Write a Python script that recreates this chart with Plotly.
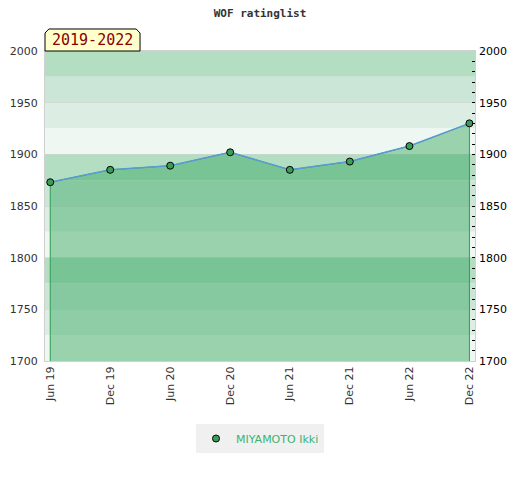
import plotly.graph_objects as go

# rating history
datas = ["2019-06-01", "2019-12-01", "2020-06-01", "2020-12-01",
         "2021-06-01", "2021-12-01", "2022-06-01", "2022-12-01"]
ratings = [1873, 1885, 1889, 1902, 1885, 1893, 1908, 1930]
jogador = "MIYAMOTO Ikki"
periodo = "2019-2022"
y_min, y_max = 1700, 2000

# faixas de fundo (cada bloco de 100 pontos, de cima para baixo)
cores_faixa = ["#b3dec2", "#cbe6d6", "#dceee3", "#eef7f1"]

fig = go.Figure()

# area preenchida ate a base do eixo
fig.add_trace(go.Scatter(x=[datas[0]] + datas + [datas[-1]],
                         y=[y_min] + ratings + [y_min],
                         mode="lines", fill="toself",
                         fillcolor="rgba(53,165,93,0.46)",
                         line=dict(color="#2e9e50", width=1),
                         hoverinfo="skip", showlegend=False))

fig.add_trace(go.Scatter(x=datas, y=ratings, mode="lines",
                         line=dict(color="#5b9bd5", width=1.5),
                         showlegend=False))

# marcadores no eixo da direita (assim o eixo y2 aparece)
fig.add_trace(go.Scatter(x=datas, y=ratings, mode="markers", yaxis="y2",
                         marker=dict(color="#3a9e5a", size=7,
                                     line=dict(color="black", width=1)),
                         name=jogador))

for i, v in enumerate(range(y_max, y_min, -25)):
    fig.add_shape(type="rect", xref="paper", x0=0, x1=1,
                  yref="y", y0=v - 25, y1=v,
                  fillcolor=cores_faixa[i % 4], line_width=0, layer="below")

# etiqueta do periodo com cantos cortados
fig.add_shape(type="path", xref="paper", yref="paper",
              path="M 0,1 L 0,1.058 L 0.009,1.071 L 0.212,1.071 L 0.221,1.058 L 0.221,1 Z",
              fillcolor="#ffffcc", line=dict(color="black", width=1))
fig.add_annotation(text=periodo, xref="paper", yref="paper",
                   x=0.1105, y=1.036, xanchor="center", yanchor="middle",
                   showarrow=False,
                   font=dict(family="DejaVu Sans Mono", size=15, color="#8b0000"))

# a pagina tem 8px de margem no body, por isso l/t menores
fig.update_layout(
    title=dict(text="<b>WOF ratinglist</b>", x=0.5, y=0.99, xref="paper",
               xanchor="center", yanchor="middle",
               font=dict(family="DejaVu Sans Mono", size=11, color="#333")),
    width=520, height=480,
    margin=dict(l=37, r=53, t=43, b=127, autoexpand=False),
    paper_bgcolor="white", plot_bgcolor="white",
    font=dict(family="DejaVu Sans", size=11, color="#333"),
    showlegend=True,
    legend=dict(orientation="h", x=0.5, xanchor="center",
                y=-0.25, yanchor="middle",
                bgcolor="#f0f0f0", font=dict(color="#3cb371", size=11)),
)

fig.update_xaxes(type="date", range=["2019-05-16", "2022-12-18"],
                 tickvals=datas, tickformat="%b %y", tickangle=-90,
                 showgrid=False, showline=True, linecolor="#d0d0d0",
                 mirror=True, ticks="", zeroline=False, automargin=False)

fig.update_yaxes(range=[y_min, y_max], dtick=50, ticks="",
                 showgrid=True, gridcolor="rgba(200,200,200,0.45)",
                 showline=True, linecolor="#d0d0d0", mirror=True,
                 zeroline=False, automargin=False, ticklabelstandoff=4)

fig.update_layout(yaxis2=dict(overlaying="y", side="right",
                              range=[y_min, y_max], dtick=50,
                              ticks="inside", ticklen=3, tickcolor="black",
                              minor=dict(dtick=10, ticks="inside", ticklen=3,
                                         tickcolor="black"),
                              showgrid=False, zeroline=False, showline=False,
                              automargin=False, ticklabelstandoff=3,
                              tickfont=dict(color="black", size=11)))

fig.write_html("out.html")
